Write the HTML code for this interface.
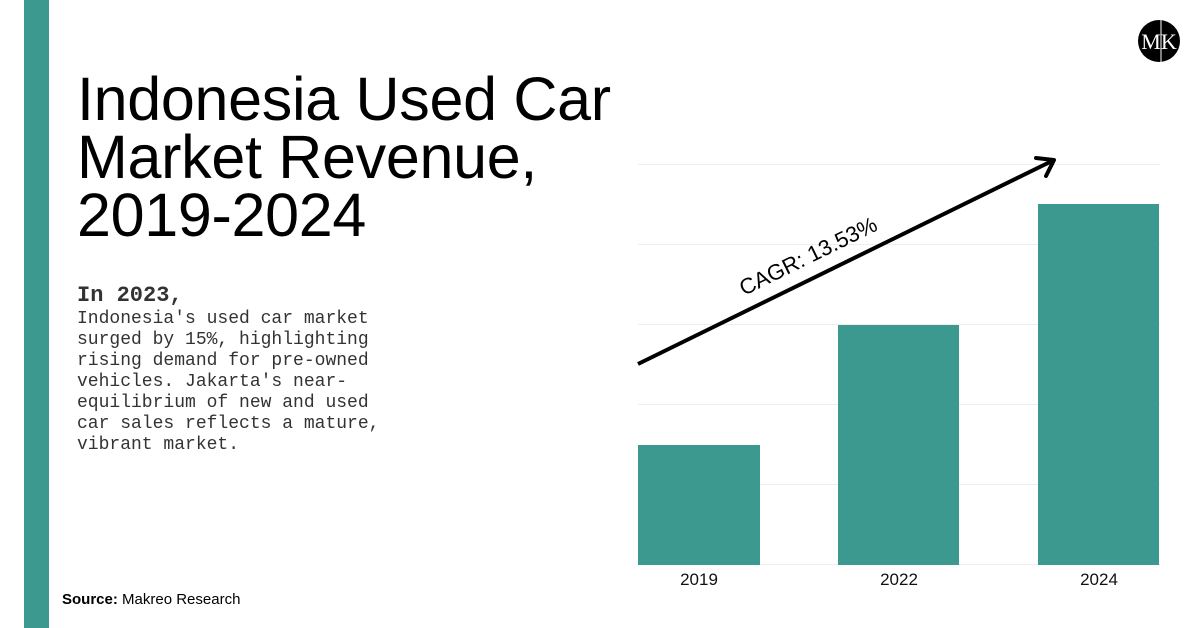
<!DOCTYPE html>
<html><head><style>
body{margin:0;width:1200px;height:628px;background:#fff;position:relative;overflow:hidden;font-family:"Liberation Sans",sans-serif}
.bar{position:absolute;background:#3c9990}
.grid{position:absolute;left:638px;width:522px;height:1px;background:#eeeeee}
.lbl{position:absolute;top:570px;font-size:17px;color:#111;width:122px;text-align:center}
</style></head><body>
<div class="bar" style="left:24px;top:0;width:25px;height:628px"></div>
<div style="position:absolute;left:77px;top:70px;font-size:61px;line-height:58px;letter-spacing:-0.3px;color:#000">Indonesia Used Car<br>Market Revenue,<br>2019-2024</div>
<div style="position:absolute;left:77px;top:283px;font-family:'Liberation Mono',monospace;font-size:22px;font-weight:bold;color:#333">In 2023,</div>
<div style="position:absolute;left:77px;top:309px;font-family:'Liberation Mono',monospace;font-size:18px;line-height:21px;color:#333;width:305px">Indonesia's used car market surged by 15%, highlighting rising demand for pre-owned vehicles. Jakarta's near-equilibrium of new and used car sales reflects a mature, vibrant market.</div>
<div style="position:absolute;left:62px;top:591px;font-size:15px;color:#000"><b>Source:</b> Makreo Research</div>
<div class="grid" style="top:164px"></div>
<div class="grid" style="top:244px"></div>
<div class="grid" style="top:324px"></div>
<div class="grid" style="top:404px"></div>
<div class="grid" style="top:484px"></div>
<div class="grid" style="top:564px"></div>
<div class="bar" style="left:638px;top:445px;width:122px;height:120px"></div>
<div class="bar" style="left:838px;top:325px;width:121px;height:240px"></div>
<div class="bar" style="left:1038px;top:204px;width:121px;height:361px"></div>
<div class="lbl" style="left:638px">2019</div>
<div class="lbl" style="left:838px">2022</div>
<div class="lbl" style="left:1038px">2024</div>
<svg style="position:absolute;left:0;top:0" width="1200" height="628">
<line x1="638" y1="364" x2="1052" y2="161" stroke="#000" stroke-width="4"/>
<polyline points="1036,158 1054,160 1046,176" fill="none" stroke="#000" stroke-width="4" stroke-linecap="round" stroke-linejoin="round"/>
<text x="0" y="0" font-size="22" font-family="Liberation Sans" fill="#000" transform="translate(744,296) rotate(-26.2)">CAGR: 13.53%</text>
<circle cx="1159" cy="41" r="21" fill="#000"/>
<line x1="1161" y1="20" x2="1161" y2="62" stroke="#fff" stroke-width="1"/>
<text x="1159" y="49" text-anchor="middle" font-family="Liberation Serif" font-size="22" fill="#fff">MK</text>
</svg>
</body></html>
